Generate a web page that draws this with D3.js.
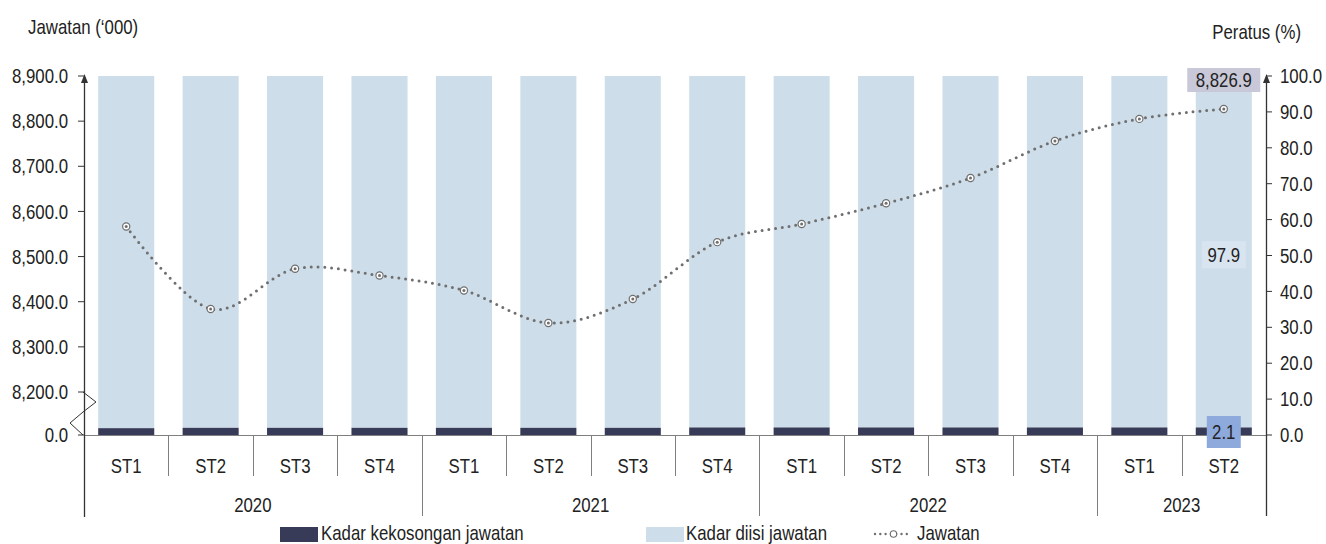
<!DOCTYPE html>
<html>
<head>
<meta charset="utf-8">
<script src="https://cdn.jsdelivr.net/npm/d3@7"></script>
<style>
  html, body { margin: 0; padding: 0; background: #fff; }
  svg { display: block; font-family: "Liberation Sans", Arial, sans-serif; }
</style>
</head>
<body>
<svg id="chart" width="1326" height="544"></svg>
<script>
// Quarterly labels and their years
const quarters = ["ST1","ST2","ST3","ST4","ST1","ST2","ST3","ST4","ST1","ST2","ST3","ST4","ST1","ST2"];
const years = ["2020","2020","2020","2020","2021","2021","2021","2021","2022","2022","2022","2022","2023","2023"];

// Job vacancy rate (%) and filled rate (%)
const vacancyRate = [1.9, 2.0, 2.0, 2.0, 2.0, 2.0, 2.0, 2.1, 2.1, 2.1, 2.1, 2.1, 2.1, 2.1];
const filledRate  = [98.1, 98.0, 98.0, 98.0, 98.0, 98.0, 98.0, 97.9, 97.9, 97.9, 97.9, 97.9, 97.9, 97.9];

// Jobs ('000)
const jobs = [8566.7, 8384.0, 8473.0, 8458.0, 8425.0, 8353.0, 8406.0, 8532.0, 8572.0, 8618.0, 8674.0, 8756.0, 8805.0, 8826.9];

// Axis tick values
const leftTicks = [0, 8200, 8300, 8400, 8500, 8600, 8700, 8800, 8900];
const rightTicks = [0, 10, 20, 30, 40, 50, 60, 70, 80, 90, 100];

const svg = d3.select("#chart");
const plotL = 84, plotR = 1266, plotT = 76, plotB = 435;
const ink = "#222", axisCol = "#333", gridGrey = "#7f7f7f";
const fs = 20.5, squeeze = 0.82;   // tall, slightly condensed lettering
const fmt = d3.format(",.1f");

// Places a condensed text label at (px, py)
function label(parent, px, py, str, anchor) {
  return parent.append("text")
    .attr("transform", `translate(${px},${py}) scale(${squeeze},1)`)
    .attr("text-anchor", anchor || "start")
    .attr("dominant-baseline", "central")
    .attr("font-size", fs).attr("fill", ink).text(str);
}

const idx = d3.range(quarters.length);
const x = d3.scaleBand().domain(idx).range([plotL, plotR]).paddingInner(0.336).paddingOuter(0.168);
const step = x.step();

// Left axis has a break between 0 and 8,200
const yL = d3.scaleLinear().domain([0, 8200, 8900]).range([plotB, 392, plotT]);
const yR = d3.scaleLinear().domain([0, 100]).range([plotB, plotT]);

// Stacked bars: vacancy at bottom, filled on top
const bars = svg.append("g");
bars.selectAll("rect.filled").data(idx).join("rect")
  .attr("class", "filled")
  .attr("x", i => x(i)).attr("width", x.bandwidth())
  .attr("y", i => yR(vacancyRate[i] + filledRate[i]))
  .attr("height", i => yR(vacancyRate[i]) - yR(vacancyRate[i] + filledRate[i]))
  .attr("fill", "#cddde9");
bars.selectAll("rect.vac").data(idx).join("rect")
  .attr("class", "vac")
  .attr("x", i => x(i)).attr("width", x.bandwidth())
  .attr("y", i => yR(vacancyRate[i]))
  .attr("height", i => yR(0) - yR(vacancyRate[i]))
  .attr("fill", "#383b58");

// X axis baseline and category separators
const xa = svg.append("g");
xa.append("line").attr("x1", plotL).attr("x2", plotR).attr("y1", plotB + 0.5).attr("y2", plotB + 0.5)
  .attr("stroke", gridGrey).attr("stroke-width", 1.2);
d3.range(quarters.length + 1).forEach(k => {
  const xx = Math.round(plotL + k * step) + 0.5;
  const yearBoundary = k === 0 || k === quarters.length || years[k] !== years[k - 1];
  xa.append("line").attr("x1", xx).attr("x2", xx)
    .attr("y1", plotB).attr("y2", yearBoundary ? 516 : 476)
    .attr("stroke", k === 0 || k === quarters.length ? axisCol : gridGrey).attr("stroke-width", 1);
});
idx.forEach(i => label(xa, x(i) + x.bandwidth() / 2, 466, quarters[i], "middle"));
d3.groups(idx, i => years[i]).forEach(([yr, list]) => {
  const x0 = plotL + d3.min(list) * step, x1 = plotL + (d3.max(list) + 1) * step;
  label(xa, (x0 + x1) / 2, 505, yr, "middle");
});

// Left axis
const la = svg.append("g");
la.append("line").attr("x1", plotL + 0.5).attr("x2", plotL + 0.5).attr("y1", 517).attr("y2", plotT + 2)
  .attr("stroke", axisCol).attr("stroke-width", 1.3);
la.append("path").attr("d", `M${plotL + 0.5},${plotT - 2} l-3.5,9 l7,0 z`).attr("fill", axisCol);
leftTicks.forEach(t => {
  const yy = yL(t);
  la.append("line").attr("x1", plotL - 6).attr("x2", plotL).attr("y1", yy).attr("y2", yy)
    .attr("stroke", axisCol).attr("stroke-width", 1);
  label(la, 68, yy, fmt(t), "end");
});
// Axis break zig-zag
la.append("polyline")
  .attr("points", [[plotL - 1, 392], [96, 402], [plotL - 1, 412], [70, 423], [plotL - 1, 435]].map(p => p.join(",")).join(" "))
  .attr("fill", "none").attr("stroke", axisCol).attr("stroke-width", 1);
label(la, 28, 27, "Jawatan (\u2018000)");

// Right axis
const ra = svg.append("g");
ra.append("line").attr("x1", plotR + 0.5).attr("x2", plotR + 0.5).attr("y1", 516).attr("y2", plotT + 2)
  .attr("stroke", axisCol).attr("stroke-width", 1.3);
ra.append("path").attr("d", `M${plotR + 0.5},${plotT - 2} l-3.5,9 l7,0 z`).attr("fill", axisCol);
rightTicks.forEach(t => {
  const yy = yR(t);
  ra.append("line").attr("x1", plotR).attr("x2", plotR + 6).attr("y1", yy).attr("y2", yy)
    .attr("stroke", axisCol).attr("stroke-width", 1);
  label(ra, 1280, yy, t.toFixed(1));
});
label(ra, 1301, 32, "Peratus (%)", "end");

// Jobs line (smoothed, dotted) with ring markers
const cx = i => x(i) + x.bandwidth() / 2;
const line = d3.line().x(i => cx(i)).y(i => yL(jobs[i])).curve(d3.curveCatmullRom.alpha(0));
const lineCol = "#6f6f6f";
svg.append("path").attr("d", line(idx)).attr("fill", "none")
  .attr("stroke", lineCol).attr("stroke-width", 3)
  .attr("stroke-dasharray", "0,6.8").attr("stroke-linecap", "round");
const mk = svg.append("g");
idx.forEach(i => {
  mk.append("circle").attr("cx", cx(i)).attr("cy", yL(jobs[i])).attr("r", 3.6)
    .attr("fill", "#fff").attr("stroke", lineCol).attr("stroke-width", 1.2);
  mk.append("circle").attr("cx", cx(i)).attr("cy", yL(jobs[i])).attr("r", 1.5).attr("fill", lineCol);
});

// Value labels on the last quarter
const last = quarters.length - 1;
function boxLabel(cxv, cyv, w, h, fill, txt) {
  const g = svg.append("g");
  g.append("rect").attr("x", cxv - w / 2).attr("y", cyv - h / 2).attr("width", w).attr("height", h).attr("fill", fill);
  label(g, cxv, cyv, txt, "middle");
}
boxLabel(cx(last), 80, 73, 24, "#c8c8d8", fmt(jobs[last]));
boxLabel(cx(last), (yR(vacancyRate[last]) + yR(vacancyRate[last] + filledRate[last])) / 2 + 3, 44, 27, "#d9e4f1", filledRate[last].toFixed(1));
boxLabel(cx(last), 432, 34, 32, "#8eaadc", vacancyRate[last].toFixed(1));

// Legend
const lg = svg.append("g");
const ly = 533;
lg.append("rect").attr("x", 280).attr("y", ly - 6).attr("width", 38).attr("height", 15).attr("fill", "#383b58");
label(lg, 321, ly, "Kadar kekosongan jawatan");
lg.append("rect").attr("x", 646).attr("y", ly - 6).attr("width", 38).attr("height", 15).attr("fill", "#cddde9");
label(lg, 686, ly, "Kadar diisi jawatan");
lg.append("line").attr("x1", 875).attr("x2", 912).attr("y1", ly + 1).attr("y2", ly + 1)
  .attr("stroke", lineCol).attr("stroke-width", 2.4).attr("stroke-dasharray", "0,5.3").attr("stroke-linecap", "round");
lg.append("circle").attr("cx", 893.5).attr("cy", ly + 1).attr("r", 3.2).attr("fill", "#fff").attr("stroke", lineCol).attr("stroke-width", 1.1);
label(lg, 917, ly, "Jawatan");
</script>
</body>
</html>
